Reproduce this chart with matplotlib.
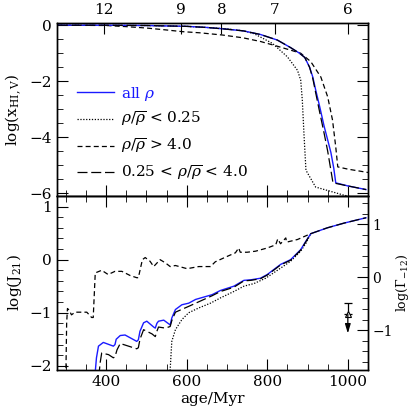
import matplotlib
matplotlib.use("Agg")
import matplotlib.pyplot as plt
import numpy as np

# ── data ──────────────────────────────────────────────────────────────────────
# upper panel: log(x_HI,V) vs age/Myr
top_all_age = [280, 400, 500, 600, 650, 691, 740, 783, 825, 858, 880, 893, 905,
               913, 920, 930, 941, 950, 958, 965, 970, 1000, 1045]
top_all_val = [0.0, 0.0, -0.01, -0.04, -0.08, -0.13, -0.2, -0.33, -0.53, -0.8,
               -1.0, -1.15, -1.5, -1.85, -2.3, -2.9, -3.6, -4.1, -4.55, -5.1,
               -5.63, -5.74, -5.87]
top_mid_age = [280, 400, 500, 600, 650, 691, 740, 783, 825, 858, 880, 893, 905,
               913, 920, 930, 941, 950, 957, 963, 970, 1000, 1045]
top_mid_val = [0.0, 0.0, -0.01, -0.04, -0.08, -0.13, -0.2, -0.33, -0.53, -0.8,
               -1.0, -1.15, -1.5, -1.9, -2.4, -3.1, -3.85, -4.5, -5.1, -5.62,
               -5.65, -5.74, -5.87]
top_low_age = [280, 500, 600, 650, 700, 740, 767, 813, 850, 875, 883, 887, 891,
               896, 920, 990, 1050]
top_low_val = [0.0, -0.01, -0.04, -0.08, -0.13, -0.2, -0.3, -0.65, -1.13, -1.61,
               -1.96, -2.68, -3.86, -5.18, -5.78, -6.07, -6.25]
top_high_age = [280, 400, 450, 500, 550, 590, 632, 689, 740, 783, 825, 858, 883,
                908, 933, 950, 962, 970, 975, 1000, 1050]
top_high_val = [0.0, -0.01, -0.05, -0.1, -0.17, -0.23, -0.27, -0.35, -0.45,
                -0.58, -0.75, -0.89, -1.0, -1.3, -1.85, -2.56, -3.39, -4.35,
                -5.06, -5.14, -5.26]

# lower panel: log(J21) vs age/Myr
j_high_age = [300, 302, 304, 308, 314, 323, 352, 364, 368, 373, 389, 405, 422,
              439, 460, 476, 480, 490, 497, 509, 518, 534, 547, 559, 572, 601,
              630, 659, 671, 700, 721, 729, 733, 750, 771, 800, 821, 826, 833,
              846, 848, 875, 908]
j_high_val = [-2.2, -1.2, -0.92, -0.95, -1.04, -0.99, -0.99, -1.09, -1.09, -0.25,
              -0.2, -0.28, -0.22, -0.22, -0.3, -0.34, -0.34, 0.0, 0.04, -0.03,
              -0.13, 0.0, -0.06, -0.13, -0.11, -0.17, -0.13, -0.13, -0.04, 0.06,
              0.13, 0.22, 0.14, 0.14, 0.16, 0.22, 0.28, 0.39, 0.3, 0.41, 0.33,
              0.38, 0.49]
j_all_age = [372, 376, 381, 393, 418, 422, 425, 435, 447, 476, 480, 484, 493,
             501, 518, 522, 526, 530, 543, 559, 563, 572, 588, 605, 622, 663,
             684, 717, 742, 759, 783, 800, 833, 858, 883, 896, 908, 949, 991,
             1045]
j_all_val = [-2.2, -1.85, -1.63, -1.56, -1.63, -1.6, -1.5, -1.43, -1.42, -1.54,
             -1.51, -1.35, -1.19, -1.16, -1.27, -1.29, -1.2, -1.16, -1.14, -1.23,
             -1.1, -0.94, -0.85, -0.82, -0.75, -0.66, -0.58, -0.5, -0.39, -0.38,
             -0.35, -0.28, -0.09, 0.0, 0.19, 0.35, 0.49, 0.6, 0.69, 0.79]
j_mid_age = [382, 385, 389, 406, 418, 422, 427, 435, 476, 480, 484, 493, 514,
             522, 526, 530, 547, 559, 563, 572, 605, 663, 684, 717, 742, 759,
             783, 800, 833, 858, 883, 896, 908, 949, 991, 1045]
j_mid_val = [-2.2, -1.95, -1.76, -1.79, -1.85, -1.83, -1.7, -1.58, -1.68, -1.66,
             -1.5, -1.32, -1.4, -1.45, -1.35, -1.27, -1.29, -1.26, -1.15, -0.99,
             -0.88, -0.68, -0.6, -0.52, -0.4, -0.39, -0.36, -0.29, -0.1, -0.01,
             0.18, 0.34, 0.49, 0.6, 0.69, 0.79]
j_low_age = [558, 563, 572, 588, 605, 630, 659, 684, 717, 742, 767, 796, 833,
             858, 883, 896, 908]
j_low_val = [-2.2, -1.54, -1.32, -1.13, -1.0, -0.91, -0.82, -0.72, -0.6, -0.5,
             -0.45, -0.35, -0.16, -0.03, 0.16, 0.31, 0.49]

# observational upper limit on log(Gamma_-12) near z = 6
obs_age = 1000
obs_gamma = -0.7
obs_err_hi = 0.22
obs_limit = -1.06

# redshift ticks on the upper axis
z_ticks = [12, 9, 8, 7, 6]

legend_labels = [r"all $\rho$",
                 r"$\rho/\overline{\rho}$ < 0.25",
                 r"$\rho/\overline{\rho}$ > 4.0",
                 r"0.25 < $\rho/\overline{\rho}$ < 4.0"]

GAMMA_OFFSET = 0.33   # log(Gamma_-12) - log(J21)
BLUE = "#1a1aff"

# ── style ─────────────────────────────────────────────────────────────────────
plt.rcParams.update({
    "font.family": "DejaVu Serif",
    "mathtext.fontset": "dejavuserif",
    "font.size": 11,
    "xtick.direction": "in",
    "ytick.direction": "in",
    "xtick.major.size": 8,
    "ytick.major.size": 8,
    "xtick.minor.size": 4,
    "ytick.minor.size": 4,
    "axes.linewidth": 1.0,
})

DOT = (0, (1, 1.3))
SHORT = (0, (4, 2.5))
LONG = (0, (8, 3))


def age_of_z(z):
    # matter-dominated scaling anchored at z=6 -> 1000 Myr
    return 1000.0 * (7.0 / (1.0 + np.asarray(z, dtype=float))) ** 1.5


fig = plt.figure(figsize=(4.15, 4.15), dpi=100)
ax1 = fig.add_axes([0.1373, 0.5277, 0.7494, 0.4169])
ax2 = fig.add_axes([0.1373, 0.1084, 0.7494, 0.4193], sharex=ax1)

# ── upper panel ───────────────────────────────────────────────────────────────
h_all, = ax1.plot(top_all_age, top_all_val, color=BLUE, lw=1.0, zorder=3)
h_low, = ax1.plot(top_low_age, top_low_val, color="k", lw=0.9, ls=DOT)
h_high, = ax1.plot(top_high_age, top_high_val, color="k", lw=0.9, ls=SHORT)
h_mid, = ax1.plot(top_mid_age, top_mid_val, color="k", lw=0.9, ls=LONG, zorder=4)

ax1.set_xlim(278, 1050)
ax1.set_ylim(-6.1, 0.08)
ax1.set_yticks([0, -2, -4, -6])
ax1.set_yticks(np.arange(-6, 0.01, 0.5), minor=True)
ax1.set_xticks([400, 600, 800, 1000])
ax1.set_xticks(np.arange(300, 1051, 50), minor=True)
ax1.tick_params(axis="x", which="both", labelbottom=False, top=False)
ax1.tick_params(axis="y", which="both", right=True)
ax1.set_ylabel(r"log(x$_{\rm HI,V}$)")

leg = ax1.legend([h_all, h_low, h_high, h_mid], legend_labels,
                 loc="lower left", bbox_to_anchor=(0.045, 0.04),
                 frameon=False, handlelength=2.4, handletextpad=0.5,
                 labelspacing=0.5, borderaxespad=0)
leg.get_texts()[0].set_color(BLUE)

# redshift axis on top
axz = ax1.twiny()
axz.set_xlim(ax1.get_xlim())
axz.set_xticks(age_of_z(z_ticks))
axz.set_xticklabels([str(z) for z in z_ticks])
axz.tick_params(axis="x", direction="in", length=8, pad=4)

# ── lower panel ───────────────────────────────────────────────────────────────
ax2.plot(j_high_age, j_high_val, color="k", lw=0.9, ls=SHORT)
ax2.plot(j_low_age, j_low_val, color="k", lw=0.9, ls=DOT)
ax2.plot(j_all_age, j_all_val, color=BLUE, lw=1.0, zorder=3)
ax2.plot(j_mid_age, j_mid_val, color="k", lw=0.9, ls=LONG, zorder=4)

ax2.set_ylim(-2.08, 1.2)
ax2.set_yticks([1, 0, -1, -2])
ax2.set_yticks(np.arange(-2, 1.21, 0.2), minor=True)
ax2.tick_params(axis="x", which="both", top=True)
ax2.set_ylabel(r"log(J$_{21}$)")
ax2.set_xlabel("age/Myr", labelpad=2)

# photoionisation-rate axis on the right
axg = ax2.twinx()
lo, hi = ax2.get_ylim()
axg.set_ylim(lo + GAMMA_OFFSET, hi + GAMMA_OFFSET)
axg.set_yticks([1, 0, -1])
axg.set_yticks(np.arange(-1.6, 1.6, 0.2), minor=True)
axg.tick_params(axis="y", which="both", direction="in")
axg.tick_params(axis="y", which="major", labelsize=10, pad=3)
axg.set_ylabel(r"log($\Gamma_{-12}$)", fontsize=9, labelpad=1)

axg.errorbar([obs_age], [obs_gamma], yerr=[[0], [obs_err_hi]], fmt="none",
             ecolor="k", elinewidth=0.9, capsize=3, capthick=0.9)
axg.plot([obs_age], [obs_gamma], marker="^", ms=4, mfc="white", mec="k", mew=0.8)
axg.annotate("", xy=(obs_age, obs_limit), xytext=(obs_age, obs_gamma),
             arrowprops=dict(arrowstyle="-|>,head_length=0.5,head_width=0.15",
                             color="k", lw=0.9, shrinkA=0, shrinkB=0))

fig.savefig("out.png", dpi=100)
